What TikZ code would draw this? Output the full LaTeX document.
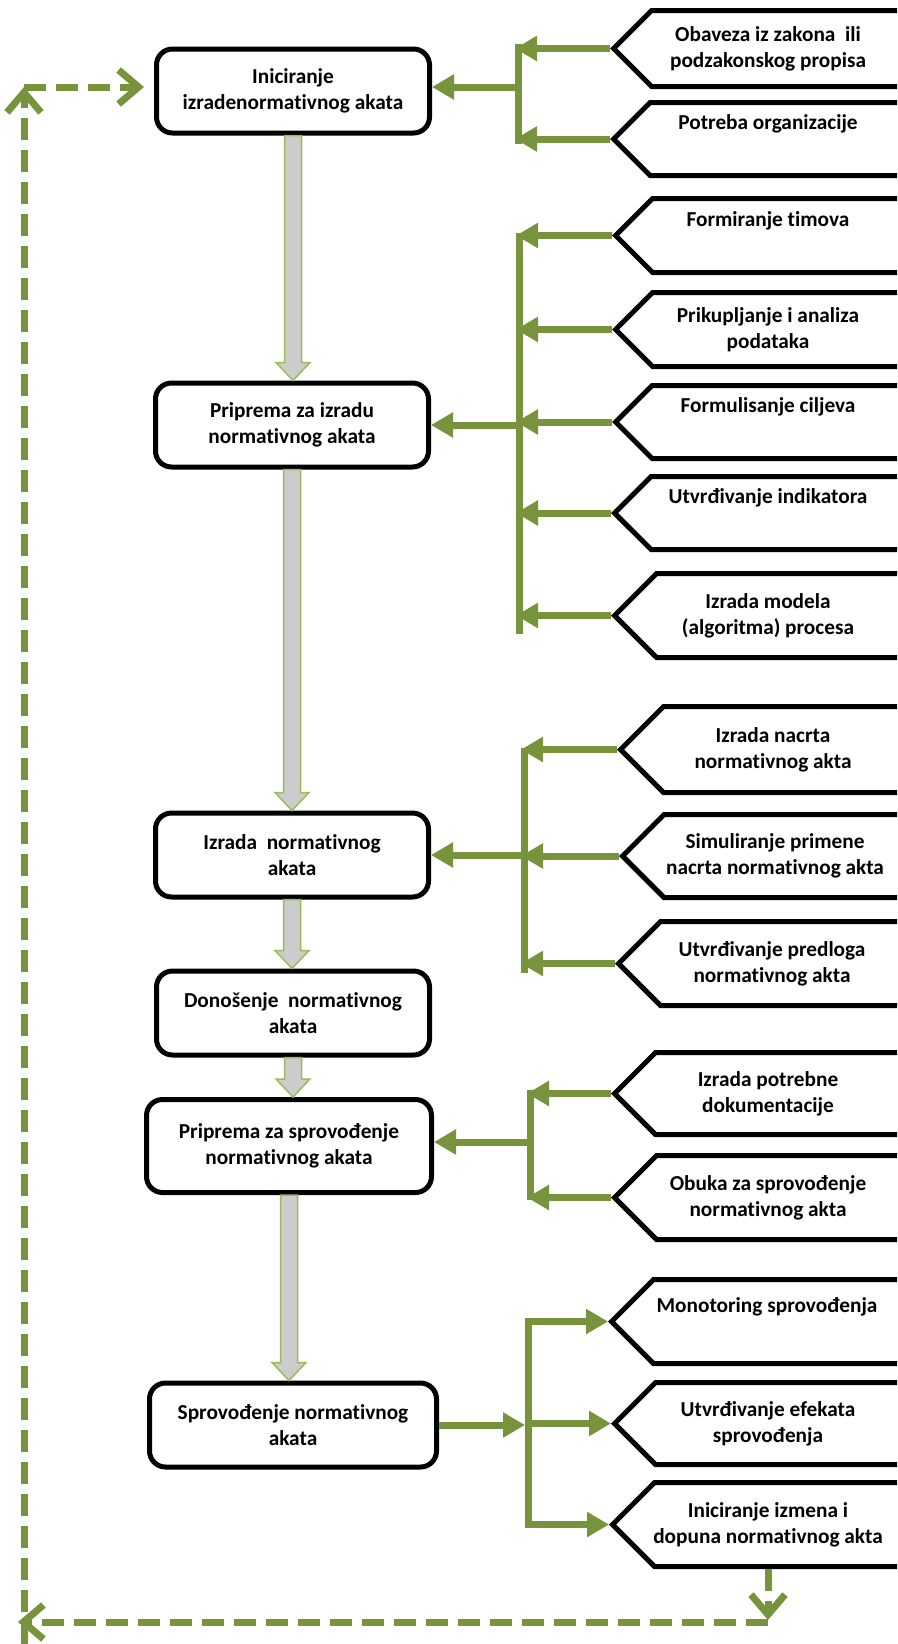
\documentclass[tikz,border=0pt]{standalone}
\usepackage{fontspec}
\setmainfont{Carlito}[Ligatures=NoCommon]
\usepackage{tikz}
\usetikzlibrary{arrows.meta, shapes.symbols, calc}

\definecolor{olive}{RGB}{119,147,60}
\definecolor{lightolive}{RGB}{155,187,89}

\tikzset{
	actbox/.style={draw, rounded corners=16pt, line width=5pt, minimum width=273pt, minimum height=84pt, align=center, font=\bfseries\fontsize{21.3}{26}\selectfont},
	srcbox/.style={draw, shape=signal, signal to=west, signal pointer angle=90, line width=5pt, minimum width=330pt, minimum height=84pt, anchor=west},
	srctext/.style={align=center, font=\bfseries\fontsize{21.3}{26}\selectfont},
	gline/.style={draw=olive, line width=7pt},
	garrow/.style={gline, -{Triangle[length=22pt,width=24pt]}},
	dline/.style={draw=olive, line width=7pt, dash pattern=on 22pt off 10pt, -{Straight Barb[length=20pt,width=34pt]}},
	blockarrow/.style={draw=lightolive, line width=1.5pt, fill=black!20, to path={let \p1=(\tikztostart), \p2=(\tikztotarget) in ({\x1-8.5pt},\y1) -- ({\x1+8.5pt},\y1) -- ({\x1+8.5pt},{\y2+18pt}) -- ({\x1+17pt},{\y2+18pt}) -- (\x1,\y2) -- ({\x1-17pt},{\y2+18pt}) -- ({\x1-8.5pt},{\y2+18pt}) -- cycle}}
}

\begin{document}
\begin{tikzpicture}[x=1pt, y=-1pt]
	\useasboundingbox (0,0) rectangle (897,1644);
	\clip (0,0) rectangle (897,1644);

	% steps
	\node [actbox] (b1) at (293,91) {Iniciranje\\izradenormativnog akata};
	\node [actbox] (b2) at (292,425) {Priprema za izradu\\normativnog akata};
	\node [actbox] (b3) at (292,855) {Izrada~ normativnog\\akata};
	\node [actbox] (b4) at (293,1013) {Donošenje~ normativnog\\akata};
	\node [actbox, minimum width=285pt, minimum height=93pt] (b5) at (289,1146) {Priprema za sprovođenje\\normativnog akata};
	\node [actbox, minimum width=287pt] (b6) at (293,1425) {Sprovođenje normativnog\\akata};

	\draw [blockarrow] (b1.south) to (b2.north);
	\draw [blockarrow] (b2.south) to (b3.north);
	\draw [blockarrow] (b3.south) to (b4.north);
	\draw [blockarrow] (b4.south) to (b5.north);
	\draw [blockarrow] (b5.south) to (b6.north);

	% inputs and outputs
	\node [srcbox, minimum height=76pt] (r1) at (610,48.5) {};
	\node [srcbox, minimum height=73pt] (r2) at (610,139) {};
	\node [srcbox, minimum height=74pt] (r3) at (612,235.5) {};
	\node [srcbox, minimum height=74pt] (r4) at (612,329.5) {};
	\node [srcbox, minimum height=73pt] (r5) at (612,422) {};
	\node [srcbox, minimum height=73pt] (r6) at (611,513) {};
	\node [srcbox] (r7) at (611,615.5) {};
	\node [srcbox, minimum height=86pt] (r8) at (617,749.5) {};
	\node [srcbox, minimum height=83pt] (r9) at (619,856) {};
	\node [srcbox] (r10) at (615,963.5) {};
	\node [srcbox, minimum height=82pt] (r11) at (611,1093.5) {};
	\node [srcbox] (r12) at (611,1197.5) {};
	\node [srcbox] (r13) at (608,1321.5) {};
	\node [srcbox, minimum height=82pt] (r14) at (611,1423.5) {};
	\node [srcbox] (r15) at (609,1524.5) {};

	\node [srctext] (r1t) at (768,0 |- r1) {Obaveza iz zakona~ ili\\podzakonskog propisa};
	\node [srctext] (r2t) at (768,0 |- r2) {Potreba organizacije\\\strut};
	\node [srctext] (r3t) at (768,0 |- r3) {Formiranje timova\\\strut};
	\node [srctext] (r4t) at (768,0 |- r4) {Prikupljanje i analiza\\podataka};
	\node [srctext] (r5t) at (768,0 |- r5) {Formulisanje ciljeva\\\strut};
	\node [srctext] (r6t) at (768,0 |- r6) {Utvrđivanje indikatora\\\strut};
	\node [srctext] (r7t) at (768,0 |- r7) {Izrada modela\\(algoritma) procesa};
	\node [srctext] (r8t) at (773,0 |- r8) {Izrada nacrta\\normativnog akta};
	\node [srctext] (r9t) at (775,0 |- r9) {Simuliranje primene\\nacrta normativnog akta};
	\node [srctext] (r10t) at (772,0 |- r10) {Utvrđivanje predloga\\normativnog akta};
	\node [srctext] (r11t) at (768,0 |- r11) {Izrada potrebne\\dokumentacije};
	\node [srctext] (r12t) at (768,0 |- r12) {Obuka za sprovođenje\\normativnog akta};
	\node [srctext] (r13t) at (767,0 |- r13) {Monotoring sprovođenja\\\strut};
	\node [srctext] (r14t) at (768,0 |- r14) {Utvrđivanje efekata\\sprovođenja};
	\node [srctext] (r15t) at (768,0 |- r15) {Iniciranje izmena i\\dopuna normativnog akta};

	% group 1
	\coordinate (t1a) at (518,44);
	\coordinate (t1b) at (518,144);
	\coordinate (j1) at (518,87);
	\draw [gline] (t1a) -- (t1b);
	\draw [garrow, shorten >=-3pt] (r1.west) -- (r1.west -| t1a);
	\draw [garrow, shorten >=-3pt] (r2.west) -- (r2.west -| t1a);
	\draw [garrow] (j1) -- (j1 -| b1.east);

	% group 2
	\coordinate (t2a) at (519,233);
	\coordinate (t2b) at (519,634);
	\draw [gline] (t2a) -- (t2b);
	\draw [garrow, shorten >=-3pt] (r3.west) -- (r3.west -| t2a);
	\draw [garrow, shorten >=-3pt] (r4.west) -- (r4.west -| t2a);
	\draw [garrow, shorten >=-3pt] (r5.west) -- (r5.west -| t2a);
	\draw [garrow, shorten >=-3pt] (r6.west) -- (r6.west -| t2a);
	\draw [garrow, shorten >=-3pt] (r7.west) -- (r7.west -| t2a);
	\draw [garrow] (b2.east -| t2a) -- (b2.east);

	% group 3
	\coordinate (t3a) at (524,748);
	\coordinate (t3b) at (524,973);
	\draw [gline] (t3a) -- (t3b);
	\draw [garrow, shorten >=-3pt] (r8.west) -- (r8.west -| t3a);
	\draw [garrow, shorten >=-3pt] (r9.west) -- (r9.west -| t3a);
	\draw [garrow, shorten >=-3pt] (r10.west) -- (r10.west -| t3a);
	\draw [garrow] (b3.east -| t3a) -- (b3.east);

	% group 4
	\coordinate (t4a) at (530,1090);
	\coordinate (t4b) at (530,1200);
	\coordinate (j4) at (530,1142);
	\draw [gline] (t4a) -- (t4b);
	\draw [garrow, shorten >=-3pt] (r11.west) -- (r11.west -| t4a);
	\draw [garrow, shorten >=-3pt] (r12.west) -- (r12.west -| t4a);
	\draw [garrow] (j4) -- (j4 -| b5.east);

	% group 5
	\coordinate (t5a) at (528,1321.5);
	\coordinate (t5b) at (528,1524.5);
	\draw [gline, line cap=rect] (t5a) -- (t5b);
	\draw [garrow, shorten >=3pt] (b6.east) -- (b6.east -| t5a);
	\draw [garrow] (t5a) -- (r13.west);
	\draw [garrow] (r14.west -| t5a) -- (r14.west);
	\draw [garrow] (t5b) -- (r15.west);

	% feedback
	\coordinate (d1) at (768,1620);
	\coordinate (d2) at (18,1622);
	\coordinate (d3) at (24,1644);
	\coordinate (d4) at (24,87);
	\draw [dline] (d1 |- r15.south) -- (d1);
	\draw [dline] (d1) ++(0,2) -- (d2);
	\draw [dline] (d3) -- (d4);
	\draw [dline, shorten >=10pt] (d4) -- (d4 -| b1.west);
\end{tikzpicture}
\end{document}
